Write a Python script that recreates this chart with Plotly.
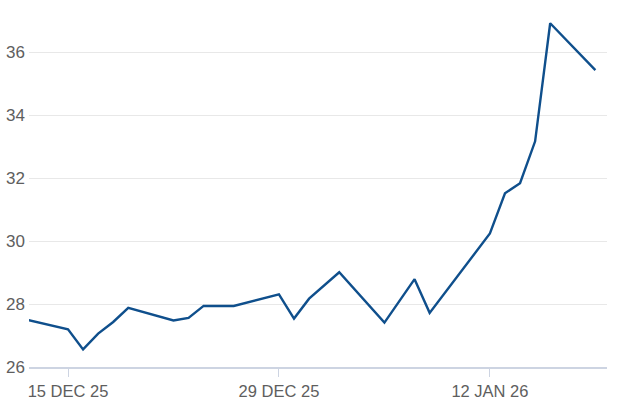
import plotly.graph_objects as go

dates = [
    "2025-12-12", "2025-12-15", "2025-12-16", "2025-12-17", "2025-12-18", "2025-12-19",
    "2025-12-22", "2025-12-23", "2025-12-24", "2025-12-26", "2025-12-29", "2025-12-30",
    "2025-12-31", "2026-01-02", "2026-01-05", "2026-01-07", "2026-01-08", "2026-01-12",
    "2026-01-13", "2026-01-14", "2026-01-15", "2026-01-16", "2026-01-19",
]
values = [
    27.53, 27.20, 26.56, 27.06, 27.43, 27.88,
    27.48, 27.56, 27.94, 27.94, 28.31, 27.54,
    28.17, 29.01, 27.41, 28.79, 27.72, 30.24,
    31.52, 31.84, 33.17, 36.92, 35.43,
]
x_ticks = ["2025-12-15", "2025-12-29", "2026-01-12"]
x_tick_labels = ["15 DEC 25", "29 DEC 25", "12 JAN 26"]
y_ticks = [26, 28, 30, 32, 34, 36]

fig = go.Figure(go.Scatter(
    x=dates, y=values, mode="lines",
    line=dict(color="#0f4f8c", width=2.4),
    hoverinfo="skip",
))

font_family = "'Liberation Sans', Arial, sans-serif"
fig.update_layout(
    width=626, height=417,
    margin=dict(l=29, r=19, t=5, b=50),
    paper_bgcolor="white", plot_bgcolor="white",
    showlegend=False,
    font=dict(family=font_family, size=16, color="#5c5c5c"),
    xaxis=dict(
        type="date", automargin=False,
        range=["2025-12-12 09:53", "2026-01-19 18:30"],
        tickvals=x_ticks, ticktext=x_tick_labels,
        showgrid=False, zeroline=False,
        showline=True, linecolor="#cdd4e2", linewidth=1.5,
        ticks="outside", ticklen=8, tickcolor="#cdd4e2", tickwidth=1,
        tickfont=dict(size=16.5, color="#5e5e5e"),
    ),
    yaxis=dict(
        range=[26, 37.5], automargin=False,
        tickvals=y_ticks,
        showgrid=True, gridcolor="#e8e8e8", gridwidth=1,
        zeroline=False, showline=False,
        ticks="", ticklabelstandoff=3,
        tickfont=dict(size=17, color="#5e5e5e"),
    ),
)

fig.write_html(
    "out.html",
    config={"displayModeBar": False},
    post_script="document.body.style.margin='0';",
)
